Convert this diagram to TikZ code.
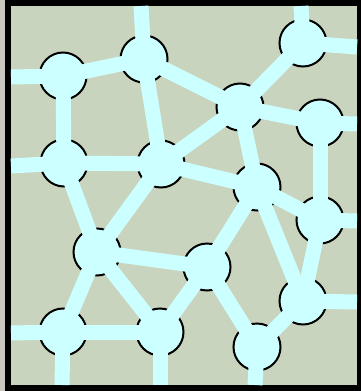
\documentclass[tikz,border=0pt]{standalone}
\usepackage{xcolor}
\usepackage{tikz}
\usetikzlibrary{positioning}

\definecolor{pipe}{RGB}{204,255,255}
\definecolor{ground}{RGB}{200,212,190}
\definecolor{margin}{RGB}{200,198,190}

\begin{document}
\begin{tikzpicture}[
    x=1pt, y=-1pt,
    vert/.style={circle, draw=black, line width=2pt, fill=pipe,
                 minimum size=47pt, inner sep=0pt},
    pipeline/.style={draw=pipe, line width=15pt},
  ]
    % page, frame and ground
    \fill[margin] (0,0) rectangle (361,391);
    \fill[black] (5,0) rectangle (361,391);
    \fill[ground] (11,6) rectangle (357,385);
    \useasboundingbox (0,0) rectangle (361,391);

    % junctions
    \node[vert] (a) at (63,76) {};
    \node[vert] (b) at (144,59) {};
    \node[vert] (e) at (303,43) {};
    \node[vert] (f) at (240,107) {};
    \node[vert] (g) at (320,123) {};
    \node[vert] (c) at (64,163) {};
    \node[vert] (d) at (161,164) {};
    \node[vert] (h) at (257,187) {};
    \node[vert] (m) at (320,220) {};
    \node[vert] (i) at (97,252) {};
    \node[vert] (l) at (207,267) {};
    \node[vert] (n) at (303,301) {};
    \node[vert] (j) at (63,332) {};
    \node[vert] (k) at (160,332) {};
    \node[vert] (o) at (257,347) {};

    % open ends at the frame
    \coordinate (a-w) at (11,77);
    \coordinate (c-w) at (11,166);
    \coordinate (j-w) at (11,333);
    \coordinate (b-n) at (141,6);
    \coordinate (e-n) at (301,6);
    \coordinate (e-e) at (357,47);
    \coordinate (g-e) at (357,124);
    \coordinate (m-e) at (357,221);
    \coordinate (n-e) at (357,302);
    \coordinate (j-s) at (62,385);
    \coordinate (k-s) at (160,385);
    \coordinate (o-s) at (255,385);

    % pipes
    \foreach \p/\q in {a/b, a/c, b/d, b/f, e/f, f/g, f/d, f/h,
                       g/m, c/d, c/i, d/h, d/i, h/m, h/l, h/n,
                       m/n, i/l, i/k, i/j, l/k, l/o, n/o, j/k}
      \draw[pipeline] (\p.center) -- (\q.center);
    \foreach \p/\q in {a/a-w, c/c-w, j/j-w, b/b-n, e/e-n, e/e-e,
                       g/g-e, m/m-e, n/n-e, j/j-s, k/k-s, o/o-s}
      \draw[pipeline] (\p.center) -- (\q);
  \end{tikzpicture}
\end{document}
